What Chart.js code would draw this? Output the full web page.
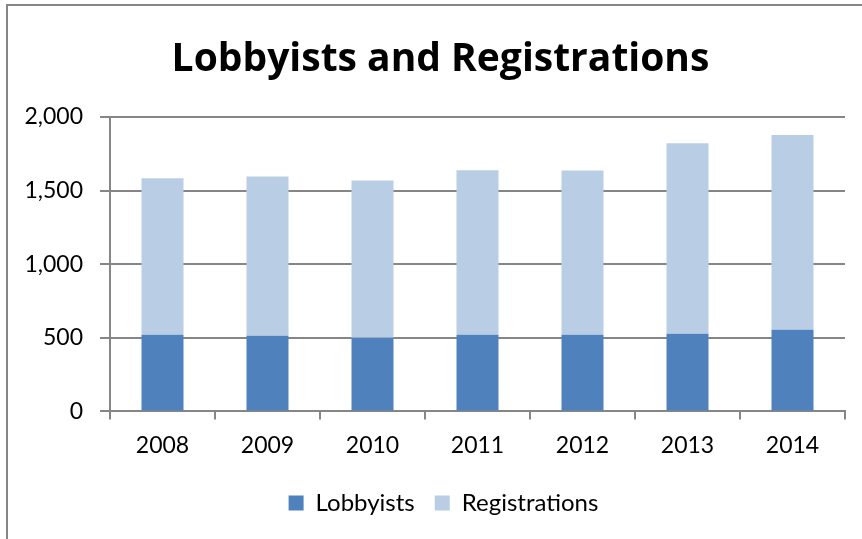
<!DOCTYPE html>
<html>
<head>
<meta charset="utf-8">
<script src="https://cdn.jsdelivr.net/npm/chart.js@4.4.0/dist/chart.umd.min.js"></script>
<style>
html,body{margin:0;padding:0;background:#fff;}
#wrap{position:absolute;left:0;top:0;width:862px;height:539px;}
</style>
</head>
<body>
<div id="wrap"><canvas id="c" width="862" height="539"></canvas></div>
<script>
const categories = ["2008","2009","2010","2011","2012","2013","2014"];
const lobbyists = [520, 514, 500, 520, 520, 527, 555];
const registrations = [1064, 1082, 1068, 1119, 1117, 1294, 1323];
const yTicks = [0, 500, 1000, 1500, 2000];

const FONT = "Lato, 'Open Sans', sans-serif";
const TFONT = "'Open Sans', Lato, sans-serif";
const GRID = "#868686";

const frame = {
  id: 'frame',
  beforeDraw(chart) {
    const ctx = chart.ctx;
    ctx.save();
    ctx.fillStyle = '#fff';
    ctx.fillRect(0, 0, chart.width, chart.height);
    ctx.strokeStyle = GRID;
    ctx.lineWidth = 2;
    ctx.beginPath();
    ctx.moveTo(7, chart.height + 5);
    ctx.lineTo(7, 5);
    ctx.lineTo(chart.width + 5, 5);
    ctx.stroke();
    ctx.restore();
  }
};

// shift title and legend boxes so they are centred like the reference
const shiftBoxes = {
  id: 'shiftBoxes',
  afterLayout(chart) {
    if (chart.legend) { chart.legend.left += 16; chart.legend.right += 16; }
    if (chart.titleBlock) { chart.titleBlock.left += 13; chart.titleBlock.right += 13; }
  }
};

new Chart(document.getElementById('c'), {
  type: 'bar',
  data: {
    labels: categories,
    datasets: [
      { label: 'Lobbyists', data: lobbyists, backgroundColor: '#4F81BD', barPercentage: 0.4, categoryPercentage: 1.0 },
      { label: 'Registrations', data: registrations, backgroundColor: '#B9CDE5', barPercentage: 0.4, categoryPercentage: 1.0 }
    ]
  },
  options: {
    responsive: false,
    animation: false,
    devicePixelRatio: 1,
    layout: { padding: { left: 10, right: 17, top: 5, bottom: 14 } },
    plugins: {
      title: {
        display: true,
        text: 'Lobbyists and Registrations',
        color: '#000',
        font: { family: TFONT, size: 39, weight: 'bold' },
        padding: { top: 31, bottom: 34.2 }
      },
      legend: {
        position: 'bottom',
        labels: {
          color: '#000',
          font: { family: FONT, size: 24 },
          boxWidth: 15,
          boxHeight: 15,
          padding: 20
        }
      },
      tooltip: { enabled: false }
    },
    scales: {
      x: {
        stacked: true,
        grid: { display: true, drawOnChartArea: false, drawTicks: true, tickLength: 8, offset: true, color: GRID, lineWidth: 2 },
        border: { display: true, color: GRID, width: 2 },
        ticks: { color: '#000', font: { family: FONT, size: 23 }, padding: 12 }
      },
      y: {
        stacked: true,
        min: 0, max: 2000,
        afterBuildTicks(scale) { scale.ticks = yTicks.map(v => ({ value: v })); },
        afterFit(scale) { scale.width = 100; },
        grid: { color: GRID, lineWidth: 2, tickLength: 10 },
        border: { display: true, color: GRID, width: 2 },
        ticks: { color: '#000', font: { family: FONT, size: 23 }, padding: 17,
          callback: v => v.toLocaleString('en-US') }
      }
    }
  },
  plugins: [frame, shiftBoxes]
});
</script>
</body>
</html>
